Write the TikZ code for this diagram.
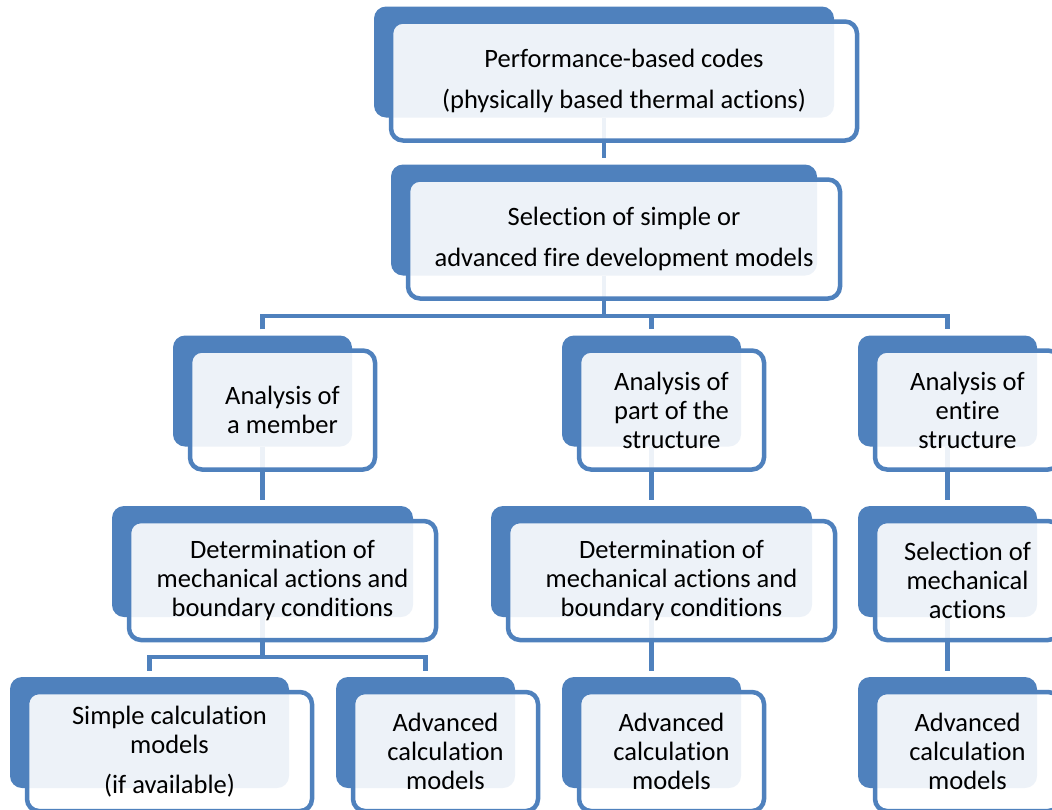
\documentclass[tikz,border=0pt]{standalone}
\usepackage{fontspec}
\setmainfont{Carlito}[Ligatures={NoCommon}]
\usepackage{tikz}
\usetikzlibrary{shapes,arrows,calc,positioning,backgrounds}
\definecolor{boxblue}{RGB}{79,129,189}

\begin{document}
\begin{tikzpicture}[x=1pt,y=-1pt,font=\fontsize{26.5}{29}\selectfont]
	\tikzstyle{back} = [rectangle,rounded corners=12pt,fill=boxblue,minimum height=111pt,inner sep=0pt]
	\tikzstyle{front} = [rectangle,rounded corners=12pt,draw=boxblue,line width=4.5pt,fill=white,fill opacity=0.9,text opacity=1,text=black,align=center,minimum height=119pt,inner sep=0pt]
	\tikzstyle{link} = [draw=boxblue,line width=4.5pt,shorten >=6pt]
	
	\useasboundingbox (0,0) rectangle (1052,809);
	\clip (0,0) rectangle (1052,809);
	
	% dark boxes behind
	\node[back,minimum width=460pt] (perfb) at (604,62) {};
	\node[back,minimum width=426pt] (selb) at (604,220) {};
	\node[back,minimum width=179pt] (memb) at (262.5,391) {};
	\node[back,minimum width=179pt] (partb) at (651.5,391) {};
	\node[back,minimum width=179pt] (entb) at (947.5,391) {};
	\node[back,minimum width=301pt] (det1b) at (262.5,561.5) {};
	\node[back,minimum width=321pt] (det2b) at (651.5,561.5) {};
	\node[back,minimum width=179pt] (selmb) at (947.5,561.5) {};
	\node[back,minimum width=279pt] (simpb) at (149.5,732.5) {};
	\node[back,minimum width=179pt] (adv1b) at (425.5,732.5) {};
	\node[back,minimum width=179pt] (adv2b) at (651.5,732.5) {};
	\node[back,minimum width=179pt] (adv3b) at (947.5,732.5) {};
	
	% text boxes
	\node[front,minimum width=466pt] (perf) at ($(perfb)+(20,19)$) {Performance-based codes\\[12pt](physically based thermal actions)};
	\node[front,minimum width=432pt] (sel) at ($(selb)+(20,19)$) {Selection of simple or\\[12pt]advanced fire development models};
	\node[front,minimum width=185pt] (mem) at ($(memb)+(20,19)$) {Analysis of\\a member};
	\node[front,minimum width=185pt] (part) at ($(partb)+(20,19)$) {Analysis of\\part of the\\structure};
	\node[front,minimum width=185pt] (ent) at ($(entb)+(20,19)$) {Analysis of\\entire\\structure};
	\node[front,minimum width=307pt] (det1) at ($(det1b)+(20,19)$) {Determination of\\mechanical actions and\\boundary conditions};
	\node[front,minimum width=327pt] (det2) at ($(det2b)+(20,19)$) {Determination of\\mechanical actions and\\boundary conditions};
	\node[front,minimum width=185pt] (selm) at ($(selmb)+(20,19)$) {Selection of\\mechanical\\actions};
	\node[front,minimum width=285pt] (simp) at ($(simpb)+(20,19)$) {Simple calculation\\models\\[11pt](if available)};
	\node[front,minimum width=185pt] (adv1) at ($(adv1b)+(20,19)$) {Advanced\\calculation\\models};
	\node[front,minimum width=185pt] (adv2) at ($(adv2b)+(20,19)$) {Advanced\\calculation\\models};
	\node[front,minimum width=185pt] (adv3) at ($(adv3b)+(20,19)$) {Advanced\\calculation\\models};
	
	\coordinate (bus) at (604,316);
	\coordinate (bus2) at (262.5,657);
	
	\begin{scope}[on background layer]
	\draw[link] (perfb.south) -- (selb.north);
	\draw[link,shorten >=0pt] (selb.south) -- (bus);
	\draw[link,shorten <=6pt] (memb.north) |- (bus) -| (entb.north);
	\draw[link] (bus) -| (partb.north);
	\draw[link] (memb.south) -- (det1b.north);
	\draw[link] (partb.south) -- (det2b.north);
	\draw[link] (entb.south) -- (selmb.north);
	\draw[link,shorten >=0pt] (det1b.south) -- (bus2);
	\draw[link,shorten <=6pt] (simpb.north) |- (bus2) -| (adv1b.north);
	\draw[link] (det2b.south) -- (adv2b.north);
	\draw[link] (selmb.south) -- (adv3b.north);
	\end{scope}
	
\end{tikzpicture}
\end{document}
